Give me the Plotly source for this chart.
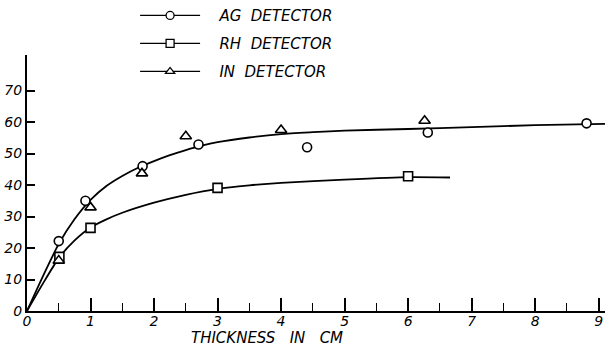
import plotly.graph_objects as go

# Measured points
ag_x = [0.5, 0.92, 1.82, 2.70, 4.41, 6.31, 8.81]
ag_y = [22.2, 35.0, 46.0, 52.9, 52.0, 56.7, 59.6]
rh_x = [0.51, 1.0, 3.0, 6.0]
rh_y = [17.2, 26.4, 39.1, 42.8]
in_x = [0.50, 1.0, 1.81, 2.50, 4.0, 6.26]
in_y = [16.0, 32.9, 43.7, 55.5, 57.5, 60.4]

# Hand-drawn smooth curves
ag_curve_x = [0, 0.25, 0.5, 0.75, 1.0, 1.25, 1.5, 1.75, 2.0, 2.25, 2.5, 2.75, 3.0, 3.5, 4.0, 4.5, 5.0, 6.0, 7.0, 8.0, 9.1]
ag_curve_y = [0, 11.0, 21.3, 29.2, 35.3, 39.7, 42.9, 45.5, 47.6, 49.5, 51.1, 52.5, 53.6, 55.1, 56.2, 56.8, 57.3, 57.8, 58.4, 59.0, 59.4]
rh_curve_x = [0, 0.25, 0.5, 0.75, 1.0, 1.25, 1.5, 2.0, 2.5, 3.0, 3.5, 4.0, 5.0, 6.0, 6.66]
rh_curve_y = [0, 8.7, 16.8, 22.4, 26.5, 29.1, 31.2, 34.4, 36.9, 38.8, 39.9, 40.7, 41.7, 42.5, 42.4]

x_tickvals = [0, 1, 2, 3, 4, 5, 6, 7, 8, 9]
y_tickvals = [0, 10, 20, 30, 40, 50, 60, 70]

names = ["AG  DETECTOR", "RH  DETECTOR", "IN  DETECTOR"]
symbols = ["circle", "square", "triangle-up"]

FONT = "DejaVu Sans"
blk = "black"

fig = go.Figure()

for cx, cy in [(ag_curve_x, ag_curve_y), (rh_curve_x, rh_curve_y)]:
    fig.add_trace(go.Scatter(x=cx, y=cy, mode="lines", showlegend=False,
                             line=dict(color=blk, width=1.8, shape="spline", smoothing=0.6)))

mk = dict(color="white", size=9, line=dict(color=blk, width=1.6))
fig.add_trace(go.Scatter(x=ag_x, y=ag_y, mode="markers", showlegend=False,
                         marker=dict(symbol="circle", **mk)))
fig.add_trace(go.Scatter(x=rh_x, y=rh_y, mode="markers", showlegend=False,
                         marker=dict(symbol="square", **mk)))
fig.add_trace(go.Scatter(x=in_x, y=in_y, mode="markers", showlegend=False,
                         marker=dict(symbol="triangle-up", color="white", size=10,
                                     line=dict(color=blk, width=1.6))))

# legend entries
for i, (nm, sym) in enumerate(zip(names, symbols)):
    fig.add_trace(go.Scatter(x=[None], y=[None], mode="lines+markers",
                             name="\u00a0\u00a0\u00a0" + nm,
                             legendgroup=f"g{i}",
                             line=dict(color=blk, width=1.2),
                             marker=dict(symbol=sym, color="white", size=8,
                                         line=dict(color=blk, width=1.3))))

fig.add_annotation(text="THICKNESS\u00a0\u00a0\u00a0IN\u00a0\u00a0\u00a0CM", xref="paper", yref="paper",
                   x=0.416, y=-0.107, yanchor="middle", showarrow=False,
                   font=dict(family=FONT, size=15, color=blk, style="italic"))

fig.update_layout(
    width=605, height=347,
    margin=dict(l=27, r=0, t=55, b=36, autoexpand=False),
    paper_bgcolor="white", plot_bgcolor="white",
    font=dict(family=FONT, color=blk),
    legend=dict(x=0.187, y=1.218, xanchor="left", yanchor="top",
                font=dict(family=FONT, size=15, color=blk, style="italic"),
                itemwidth=60, tracegroupgap=5.5, bgcolor="rgba(0,0,0,0)"),
    xaxis=dict(range=[0, 9.1], showgrid=False, zeroline=False, showline=True,
               automargin=False,
               linecolor=blk, linewidth=2, tickvals=x_tickvals,
               ticks="inside", ticklen=13, tickwidth=1.6, tickcolor=blk,
               minor=dict(ticks="inside", ticklen=8, dtick=0.5, tick0=0,
                          tickwidth=1.4, tickcolor=blk),
               ticklabelstandoff=-4,
               tickfont=dict(family=FONT, size=14, color=blk, style="italic")),
    yaxis=dict(range=[0, 81.3], showgrid=False, zeroline=False, showline=True,
               automargin=False,
               linecolor=blk, linewidth=2, tickvals=y_tickvals,
               ticks="inside", ticklen=8, tickwidth=1.6, tickcolor=blk,
               tickfont=dict(family=FONT, size=14, color=blk, style="italic")),
)

fig.write_html("out.html", config={"displayModeBar": False},
               post_script="document.body.style.margin='0';document.body.style.overflow='hidden';")
